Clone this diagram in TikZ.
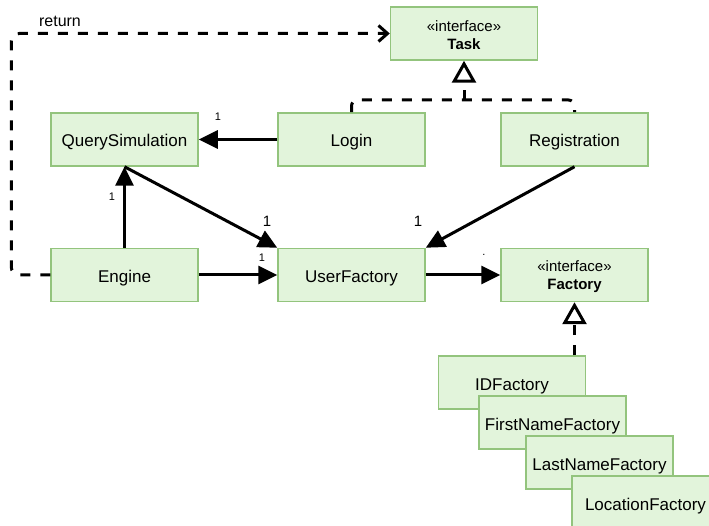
\documentclass[tikz,border=0pt]{standalone}
\usepackage{fontspec}
\setmainfont{Liberation Sans}
\usepackage{tikz}
\usetikzlibrary{arrows.meta}
\usetikzlibrary{positioning}
\definecolor{boxfill}{HTML}{E2F4DB}
\definecolor{boxline}{HTML}{93C47D}
\newcommand{\ifstrut}{\rule{0pt}{15pt}}
\tikzstyle{cls} = [rectangle, draw=boxline, fill=boxfill, line width=1.5pt, minimum width=147pt, minimum height=53pt, inner sep=0pt, text height=15pt, text depth=0pt, font=\fontsize{17}{20}\selectfont]
\tikzstyle{iface} = [rectangle, draw=boxline, fill=boxfill, line width=1.5pt, minimum width=147pt, minimum height=53pt, inner sep=0pt, align=center, font=\fontsize{15}{18}\selectfont]
\tikzstyle{assoc} = [-{Triangle[length=19pt,width=18pt]}, line width=3pt, draw=black]
\tikzstyle{real} = [-{Triangle[open,length=22pt,width=24pt,fill=white]}, line width=3pt, dash pattern=on 10pt off 10pt]
\tikzstyle{ret} = [-{Straight Barb[length=9pt,width=16pt]}, line width=3pt, dash pattern=on 10pt off 10pt, rounded corners=8pt]
\tikzstyle{mult} = [inner sep=0pt, font=\fontsize{11}{13}\selectfont]
\tikzstyle{multb} = [inner sep=0pt, font=\fontsize{15}{18}\selectfont]

\begin{document}
\begin{tikzpicture}[x=1pt, y=-1pt]
\useasboundingbox (0,0) rectangle (709,526);
\node [iface] (Task) at (464,33.5) {\ifstrut«interface»\\\textbf{Task}};
\node [cls] (QS) at (124.5,139.5) {QuerySimulation};
\node [cls] (Login) at (351.5,139.5) {Login};
\node [cls] (Reg) at (574.5,139.5) {Registration};
\node [cls] (Engine) at (124.5,275) {Engine};
\node [cls] (UF) at (351.5,275) {UserFactory};
\node [iface] (Factory) at (574.5,275) {\ifstrut«interface»\\\textbf{Factory}};
\node [cls] (IDF) at (512,382.5) {IDFactory};
\node [cls] (FNF) at (552.5,422.5) {FirstNameFactory};
\node [cls] (LNF) at (599.5,462.5) {LastNameFactory};
\node [cls] (LocF) at (645.5,502.5) {LocationFactory};
\coordinate (join) at (464,100);
\draw [assoc] (Login) to (QS);
\draw [assoc] (Engine) to (QS);
\draw [assoc] (QS.south) to (UF.north west);
\draw [assoc] (Reg.south) to (UF.north east);
\draw [assoc] (Engine) to (UF);
\draw [assoc] (UF) to (Factory);
\draw [line width=3pt, dash pattern=on 10pt off 10pt, rounded corners=6pt] (Login.north) |- (join) -| (Reg.north);
\draw [real] (join) to (Task.south);
\draw [real] (Factory.south |- IDF.north) to (Factory.south);
\draw [ret] (Engine.west) -- ++(-39,0) |- (Task.west);
\node [font=\fontsize{16}{19}\selectfont] (lret) at (60,21) {return};
\node [mult] (m1) at (218,117) {1};
\node [mult] (m2) at (112,197) {1};
\node [multb] (m3) at (267,221) {1};
\node [multb] (m4) at (418,221) {1};
\node [mult] (m5) at (262,258) {1};
\node [mult] (m6) at (484,255) {.};
\end{tikzpicture}
\end{document}
